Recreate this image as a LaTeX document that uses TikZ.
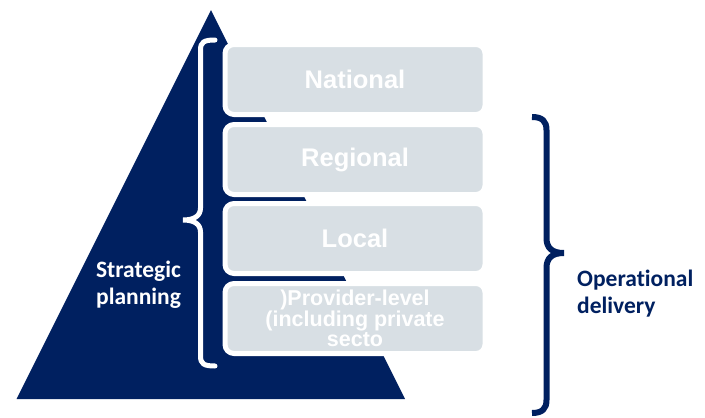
\documentclass[tikz,border=0pt]{standalone}
\usepackage{fontspec}
\setmainfont{Liberation Sans}
\newfontfamily\calib[Ligatures=NoCommon]{Carlito}
\definecolor{navy}{RGB}{0,32,96}
\definecolor{boxfill}{RGB}{216,223,228}
\begin{document}
\begin{tikzpicture}[x=1pt,y=-1pt,
  lvl/.style={draw=white, line width=5pt, fill=boxfill, rounded corners=9pt,
    minimum width=260pt, minimum height=70pt, inner sep=0pt, text=white,
    font=\fontsize{25.5}{27}\selectfont\bfseries},
  lbl/.style={inner sep=0pt, font=\calib\fontsize{23.5}{27}\selectfont\bfseries}]
\useasboundingbox (0,0) rectangle (705,418);
\fill[navy] (211,10) coordinate (apex) -- (16.5,399) coordinate (bl) -- (405,399) coordinate (br) -- cycle;
% left brace (white)
\coordinate (lbT) at (215,40);
\coordinate (lbM) at (183,220);
\coordinate (lbB) at (215,366);
\draw[white, line width=5pt, line cap=round]
  (lbT) .. controls (204,40) and (200.5,42) .. (200.5,50)
  -- (200.5,208) .. controls (200.5,216) and (194,220) .. (lbM)
  .. controls (194,220) and (200.5,224) .. (200.5,232)
  -- (200.5,356) .. controls (200.5,364) and (204,366) .. (lbB);
% boxes
\node[lvl] (nat) at (355,79.5) {National};
\node[lvl] (reg) at (355,159.5) {Regional};
\node[lvl] (loc) at (355,238.5) {Local};
\node[lvl, align=center, font=\fontsize{21.5}{20.5}\selectfont\bfseries] (prov) at (355,318.5)
  {)Provider-level\\(including private\\secto};
% right brace (navy)
\coordinate (rbT) at (532,117);
\coordinate (rbM) at (564,253);
\coordinate (rbB) at (532,413);
\draw[navy, line width=6pt]
  (rbT) .. controls (542,117) and (546.5,121) .. (546.5,130)
  -- (546.5,238) .. controls (546.5,248) and (552,253) .. (rbM)
  .. controls (552,253) and (546.5,258) .. (546.5,268)
  -- (546.5,400) .. controls (546.5,409) and (542,413) .. (rbB);
% labels
\node[lbl, text=white, align=center] (strat) at (138.5,284.5) {Strategic\\planning};
\node[lbl, text=navy, align=left, anchor=west] (oper) at (577,294) {Operational\\delivery};
\end{tikzpicture}
\end{document}
